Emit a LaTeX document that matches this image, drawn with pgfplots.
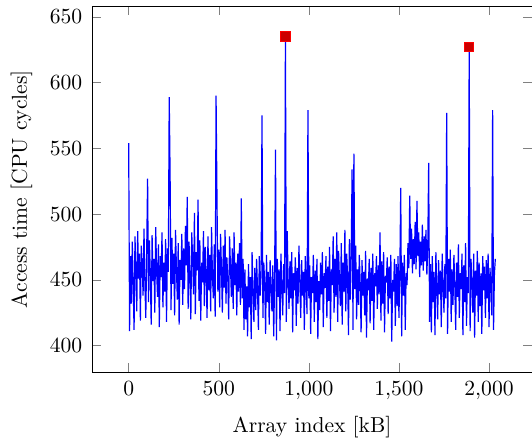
\documentclass[border=0pt]{standalone}
\usepackage{pgfplots}
\pgfplotsset{compat=1.18}
\begin{document}
\begin{tikzpicture}
\begin{axis}[
    scale only axis,
    width=203.7pt, height=169.5pt,
    xmin=-203.5, xmax=2238.5,
    ymin=379.8, ymax=658.2,
    xtick={0,500,1000,1500,2000},
    ytick={400,450,...,650},
    yticklabel style={xshift=-1pt},
    xticklabel style={yshift=-0.6pt},
    xlabel={Array index [kB]},
    ylabel={Access time [CPU cycles]},
    ylabel shift=1.3pt,
    xlabel shift=1pt,
]
% measured access times (one sample every 5 kB, spikes kept)
\addplot[blue, line width=0.55pt, mark=none] coordinates {
(0,554)(5,411)(10,468)(15,432)(20,479)(25,445)(30,412)(35,483)(40,458)(45,426)
(50,487)(55,451)(60,470)(65,419)(70,476)(75,462)(80,438)(85,489)(90,447)(95,421)
(100,472)(105,527)(110,433)(115,480)(120,455)(125,416)(130,484)(135,449)(140,466)(145,425)
(150,490)(155,458)(160,437)(165,477)(170,414)(175,468)(180,452)(185,486)(190,429)(195,463)
(200,441)(205,481)(210,418)(215,474)(220,456)(225,589)(230,529)(235,427)(240,482)(245,447)
(250,470)(255,423)(260,488)(265,459)(270,435)(275,478)(280,416)(285,465)(290,450)(295,485)
(300,431)(305,474)(310,443)(315,491)(320,461)(325,513)(330,428)(335,479)(340,453)(345,420)
(350,486)(355,466)(360,439)(365,501)(370,424)(375,471)(380,457)(385,511)(390,434)(395,480)
(400,419)(405,463)(410,448)(415,487)(420,430)(425,475)(430,455)(435,421)(440,483)(445,442)
(450,469)(455,426)(460,490)(465,452)(470,436)(475,477)(480,422)(485,590)(490,514)(495,441)
(500,473)(505,429)(510,485)(515,458)(520,425)(525,476)(530,444)(535,488)(540,432)(545,467)
(550,451)(555,420)(560,483)(565,460)(570,437)(575,474)(580,428)(585,486)(590,446)(595,463)
(600,423)(605,470)(610,441)(615,478)(620,431)(625,512)(630,436)(635,466)(640,412)(645,458)
(650,420)(655,445)(660,407)(665,462)(670,429)(675,452)(680,405)(685,471)(690,440)(695,418)
(700,459)(705,427)(710,466)(715,443)(720,412)(725,468)(730,438)(735,455)(740,575)(745,421)
(750,463)(755,447)(760,409)(765,469)(770,433)(775,456)(780,416)(785,465)(790,444)(795,426)
(800,461)(805,407)(810,452)(815,549)(820,404)(825,466)(830,437)(835,458)(840,411)(845,470)
(850,446)(855,423)(860,462)(865,440)(870,635)(875,418)(880,487)(885,449)(890,428)(895,464)
(900,436)(905,471)(910,410)(915,455)(920,442)(925,467)(930,415)(935,459)(940,432)(945,476)
(950,448)(955,421)(960,465)(965,438)(970,456)(975,412)(980,468)(985,445)(990,424)(995,579)
(1000,436)(1005,461)(1010,409)(1015,452)(1020,440)(1025,469)(1030,418)(1035,457)(1040,433)(1045,466)
(1050,405)(1055,449)(1060,427)(1065,463)(1070,439)(1075,471)(1080,414)(1085,455)(1090,444)(1095,468)
(1100,421)(1105,460)(1110,434)(1115,475)(1120,411)(1125,458)(1130,446)(1135,483)(1140,425)(1145,466)
(1150,437)(1155,486)(1160,418)(1165,472)(1170,449)(1175,430)(1180,478)(1185,416)(1190,463)(1195,441)
(1200,488)(1205,426)(1210,470)(1215,452)(1220,408)(1225,481)(1230,435)(1235,467)(1240,534)(1245,412)
(1250,546)(1255,443)(1260,476)(1265,420)(1270,458)(1275,431)(1280,469)(1285,447)(1290,410)(1295,465)
(1300,438)(1305,456)(1310,423)(1315,472)(1320,406)(1325,451)(1330,442)(1335,466)(1340,417)(1345,459)
(1350,434)(1355,470)(1360,412)(1365,455)(1370,445)(1375,468)(1380,428)(1385,461)(1390,439)(1395,486)
(1400,419)(1405,464)(1410,432)(1415,471)(1420,410)(1425,453)(1430,448)(1435,467)(1440,424)(1445,460)
(1450,436)(1455,469)(1460,403)(1465,450)(1470,441)(1475,466)(1480,415)(1485,462)(1490,430)(1495,468)
(1500,421)(1505,457)(1510,520)(1515,407)(1520,463)(1525,438)(1530,469)(1535,412)(1540,455)(1545,446)
(1550,478)(1555,459)(1560,514)(1565,466)(1570,489)(1575,455)(1580,481)(1585,462)(1590,494)(1595,458)
(1600,510)(1605,468)(1610,486)(1615,452)(1620,479)(1625,461)(1630,492)(1635,457)(1640,483)(1645,464)
(1650,488)(1655,454)(1660,475)(1665,539)(1670,418)(1675,462)(1680,410)(1685,468)(1690,433)(1695,456)
(1700,408)(1705,471)(1710,444)(1715,420)(1720,465)(1725,439)(1730,457)(1735,414)(1740,470)(1745,447)
(1750,425)(1755,462)(1760,436)(1765,577)(1770,409)(1775,466)(1780,441)(1785,473)(1790,418)(1795,458)
(1800,431)(1805,469)(1810,446)(1815,412)(1820,463)(1825,437)(1830,477)(1835,421)(1840,455)(1845,443)
(1850,470)(1855,408)(1860,461)(1865,433)(1870,478)(1875,415)(1880,452)(1885,440)(1890,627)(1895,411)
(1900,466)(1905,447)(1910,425)(1915,470)(1920,406)(1925,457)(1930,438)(1935,472)(1940,418)(1945,463)
(1950,430)(1955,455)(1960,409)(1965,468)(1970,442)(1975,460)(1980,421)(1985,465)(1990,436)(1995,470)
(2000,414)(2005,459)(2010,447)(2015,423)(2020,579)(2025,412)(2030,455)(2035,466)
};
% the two outliers
\addplot[only marks, mark=square*, mark size=2.15pt, color=red, mark options={fill=red!80!black}]
  coordinates {(870,635) (1890,627)};
\end{axis}
\pgfresetboundingbox
\path ([xshift=-42.6pt,yshift=-30.9pt]current axis.south west)
  rectangle ([yshift=2.8pt]current axis.north east);
\end{tikzpicture}
\end{document}
